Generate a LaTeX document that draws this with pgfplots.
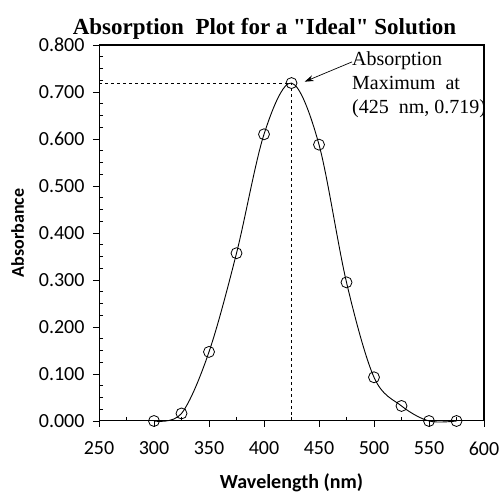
\documentclass[border=0pt]{standalone}
\usepackage{fontspec}
\setmainfont{Liberation Serif}
\newfontfamily\calib{Carlito}
\usepackage{pgfplots}
\pgfplotsset{compat=1.18}
\usetikzlibrary{arrows.meta}

\begin{document}
\begin{tikzpicture}
\begin{axis}[
    name=ax,
    width=385pt,
    height=376pt,
    scale only axis,
    xmin=250, xmax=600,
    ymin=0, ymax=0.8,
    xtick={250,300,...,600},
    ytick={0,0.1,...,0.8},
    minor x tick num=1,
    minor y tick num=3,
    xtick pos=bottom,
    ytick pos=left,
    tick align=outside,
    major tick length=6pt,
    minor tick length=-4pt,
    axis line style={black, line width=1pt},
    tick style={black, line width=0.7pt},
    y tick label style={xshift=-5pt, /pgf/number format/fixed, /pgf/number format/fixed zerofill,
        /pgf/number format/precision=3, /pgf/number format/assume math mode=true},
    x tick label style={yshift=-11pt, /pgf/number format/assume math mode=true},
    ticklabel style={font=\calib\fontsize{20}{22}\selectfont},
    scaled y ticks=false,
    title={\bfseries\fontsize{23}{27}\selectfont Absorption\ \ Plot for a \textquotedbl Ideal\textquotedbl\ Solution},
    title style={yshift=-4pt, xshift=-27pt},
    xlabel={\calib\bfseries\fontsize{20}{24}\selectfont Wavelength (nm)},
    xlabel style={yshift=-12pt},
    ylabel={\calib\bfseries\fontsize{18}{21}\selectfont Absorbance},
    ylabel style={yshift=8pt},
    clip=false
]
% plot-area frame (top and right edges)
\addplot[black, line width=1.2pt, forget plot] coordinates {(250,0.8) (600,0.8) (600,0)};

% dashed guide lines to the maximum
\addplot[black, dashed, line width=0.9pt, forget plot] coordinates {(250,0.719) (425,0.719)};
\addplot[black, dashed, line width=0.9pt, forget plot] coordinates {(425,0) (425,0.719)};

\addplot[black, line width=0.9pt, smooth, tension=0.55,
    mark=o, mark size=5.5pt, mark options={line width=0.8pt}]
coordinates {
    (300,0.000) (325,0.016) (350,0.147) (375,0.357) (400,0.610)
    (425,0.719) (450,0.588) (475,0.295) (500,0.093) (525,0.032)
    (550,0.000) (575,0.000)
};

\draw[-{Stealth[length=9pt,width=6pt]}, line width=0.7pt]
    (axis cs:480,0.764) -- (axis cs:437,0.722);
\node[anchor=north west, align=left, font=\fontsize{20}{24}\selectfont, inner sep=0pt]
    at (axis cs:480,0.787) {Absorption\\Maximum\ \ at\\(425\ \ nm, 0.719)};
\end{axis}
\path[use as bounding box] ([xshift=-99pt,yshift=-67pt]ax.south west)
    rectangle ([xshift=20pt,yshift=45pt]ax.north east);
\end{tikzpicture}
\end{document}
